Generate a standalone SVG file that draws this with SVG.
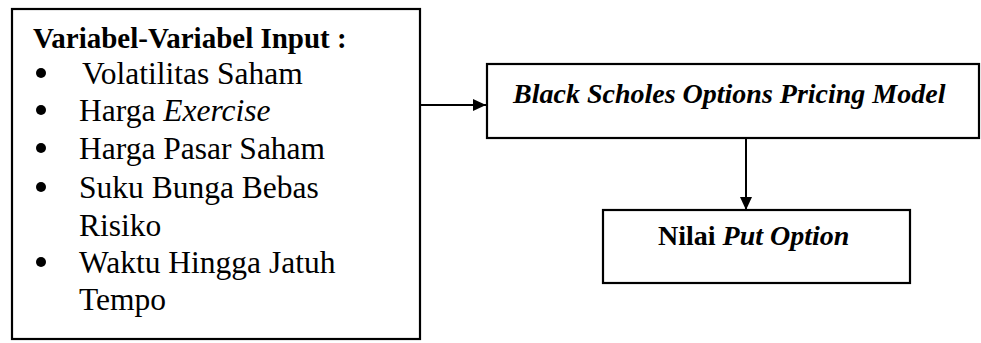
<svg xmlns="http://www.w3.org/2000/svg" width="981" height="343" viewBox="0 0 981 343">
<style>
.box{fill:#fff;stroke:#000;stroke-width:2.2}
text{font-family:'Liberation Serif','Tinos','DejaVu Serif',serif;fill:#000}
.title{font-size:29px;font-weight:bold}
.li{font-size:31.5px}
.lbl{font-size:28px;font-weight:bold}
.conn{stroke:#000;stroke-width:2;fill:none}
</style>
<defs>
<marker id="ah" markerWidth="14" markerHeight="14" refX="13" refY="7" orient="auto" markerUnits="userSpaceOnUse">
<path d="M0,1 L13,7 L0,13 Z" fill="#000"/>
</marker>
</defs>
<g id="connectors">
<line class="conn" x1="420" y1="105" x2="486" y2="105" marker-end="url(#ah)"/>
<line class="conn" x1="746" y1="138" x2="746" y2="210" marker-end="url(#ah)"/>
</g>
<g id="input">
<rect class="box" x="12" y="9" width="408" height="330"/>
<text class="title" x="33" y="48">Variabel-Variabel Input :</text>
<g fill="#000">
<circle cx="41" cy="73" r="5"/>
<circle cx="41" cy="110" r="5"/>
<circle cx="41" cy="148" r="5"/>
<circle cx="41" cy="187" r="5"/>
<circle cx="41" cy="262" r="5"/>
</g>
<text class="li" x="82" y="84">Volatilitas Saham</text>
<text class="li" x="79" y="121">Harga <tspan font-style="italic">Exercise</tspan></text>
<text class="li" x="79" y="159">Harga Pasar Saham</text>
<text class="li" x="79" y="198">Suku Bunga Bebas</text>
<text class="li" x="79" y="236">Risiko</text>
<text class="li" x="79" y="273">Waktu Hingga Jatuh</text>
<text class="li" x="79" y="310">Tempo</text>
</g>
<g id="model">
<rect class="box" x="487" y="64" width="492" height="74"/>
<text class="lbl" x="513" y="103" font-style="italic">Black Scholes Options Pricing Model</text>
</g>
<g id="put">
<rect class="box" x="603" y="210" width="307" height="73"/>
<text class="lbl" x="658" y="245">Nilai <tspan font-style="italic">Put Option</tspan></text>
</g>
</svg>
